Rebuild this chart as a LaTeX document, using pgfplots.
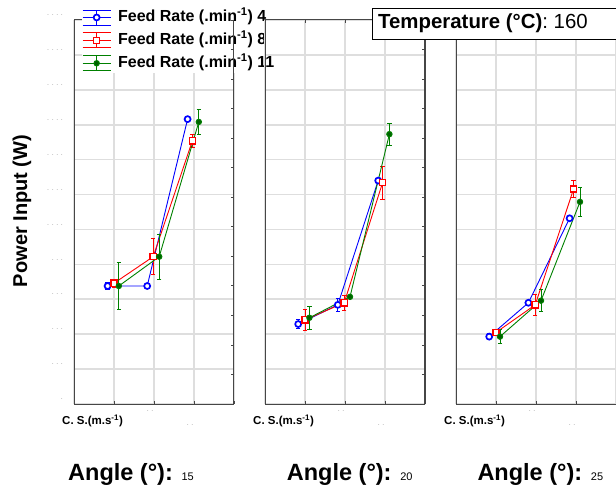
\documentclass[border=0pt]{standalone}
\usepackage{pgfplots}
\pgfplotsset{compat=1.18}
\usepackage{fontspec}
\setmainfont{Liberation Sans}
\setsansfont{Liberation Sans}

\definecolor{cblue}{RGB}{0,0,255}
\definecolor{cred}{RGB}{255,0,0}
\definecolor{cgreen}{RGB}{0,128,0}
\definecolor{gridgray}{RGB}{222,222,222}
\definecolor{axgray}{RGB}{70,70,70}
\definecolor{dotgray}{RGB}{150,150,150}

\pgfplotsset{
  panel/.style={
    width=160bp, height=384bp, scale only axis,
    xmin=0, xmax=4, ymin=0, ymax=11,
    xtick={0,...,4}, ytick={0,...,11},
    ymajorgrids=true, xmajorgrids=true,
    major grid style={gridgray, line width=1.6bp},
    axis line style={axgray, line width=1bp},
    xtick style={axgray, line width=0.8bp},
    ytick style={draw=none},
    major tick length=3bp,
    tick align=inside,
    xticklabels={}, yticklabels={},
    yticklabel pos=left,
    clip=false,
  },
  rticks/.style={
    width=160bp, height=384bp, scale only axis,
    xmin=0, xmax=4, ymin=0, ymax=13,
    axis x line=none, axis y line*=right,
    ytick={0,...,13}, yticklabels={},
    axis line style={axgray, line width=1bp},
    tick style={axgray, line width=0.8bp},
    major tick length=3bp,
    tick align=inside,
  },
  eb/.style={error bars/y dir=both, error bars/y explicit,
    error bars/error bar style={line width=0.8bp},
    error bars/error mark options={line width=0.8bp, mark size=2.2bp, rotate=90}},
  sblue/.style={cblue, line width=0.9bp, mark=*, mark size=3bp,
    mark options={fill=white, draw=cblue, line width=1.7bp}, eb},
  sred/.style={cred, line width=0.9bp, mark=square*, mark size=3.1bp,
    mark options={fill=white, draw=cred, line width=1.4bp}, eb},
  sgreen/.style={cgreen, line width=0.9bp, mark=*, mark size=2.7bp,
    mark options={fill=cgreen!75!black, draw=cgreen, line width=1bp}, eb},
  errlegend/.style={legend image code/.code={
      \draw[mark=none, line width=0.9bp] (0bp,0bp)--(28bp,0bp);
      \draw[mark=none, line width=0.9bp] (0bp,7.5bp)--(28bp,7.5bp);
      \draw[mark=none, line width=0.9bp] (0bp,-7.5bp)--(28bp,-7.5bp);
      \draw[mark=none, line width=0.9bp] (14bp,-7.5bp)--(14bp,7.5bp);
      \draw plot coordinates {(14bp,0bp)};
  }},
}

\newcommand{\legfont}{\fontsize{16bp}{19bp}\selectfont\bfseries}
\newcommand{\tdots}[1]{{\color{dotgray}\fontsize{7bp}{8bp}\selectfont #1}}

\begin{document}
\begin{tikzpicture}
\path[use as bounding box] (-74bp,-83bp) rectangle (542bp,404bp);

% ---------- Panel 1 (Angle 15) ----------
\begin{axis}[panel, at={(0bp,0bp)},
  yticklabels={{\tdots{.}},{\tdots{. . .}},{\tdots{. . .}},{\tdots{. . .}},{\tdots{. . .}},{\tdots{. . . .}},{\tdots{. . . .}},{\tdots{. . . .}},{\tdots{. . . .}},{\tdots{. . . .}},{\tdots{. . . .}},{\tdots{. . . .}}},
  yticklabel style={anchor=south east, inner sep=0pt, xshift=-11bp, yshift=4bp},
  legend style={at={(rel axis cs:0.05,1.033)}, anchor=north west,
    draw=none, fill=white, inner xsep=0bp, inner ysep=2bp, row sep=7bp,
    nodes={inner sep=0pt, text height=11.5bp, text depth=3.5bp},
    font=\legfont},
  legend cell align=left,
]
\addplot+[sblue, errlegend] coordinates {
 (0.84,3.38) +- (0,0.11)
 (1.83,3.38) +- (0,0.05)
 (2.84,8.16) +- (0,0.05)
};
\addlegendentry{\hspace{7bp}Feed Rate (.min\textsuperscript{-1}) 4\hspace{8bp}}
\addplot+[sred, errlegend] coordinates {
 (1.00,3.46) +- (0,0.12)
 (1.98,4.22) +- (0,0.52)
 (2.96,7.54) +- (0,0.19)
};
\addlegendentry{\hspace{7bp}Feed Rate (.min\textsuperscript{-1}) 8}
\addplot+[sgreen, errlegend] coordinates {
 (1.12,3.38) +- (0,0.68)
 (2.13,4.22) +- (0,0.64)
 (3.12,8.08) +- (0,0.35)
};
\addlegendentry{\hspace{7bp}Feed Rate (.min\textsuperscript{-1}) 11}
\end{axis}
\begin{axis}[rticks, at={(0bp,0bp)}]
\end{axis}

% ---------- Panel 2 (Angle 20) ----------
\begin{axis}[panel, at={(191bp,0bp)}]
\addplot+[sblue] coordinates {
 (0.83,2.29) +- (0,0.13)
 (1.82,2.84) +- (0,0.19)
 (2.83,6.40) +- (0,0.05)
};
\addplot+[sred] coordinates {
 (1.00,2.41) +- (0,0.29)
 (1.98,2.90) +- (0,0.21)
 (2.94,6.34) +- (0,0.48)
};
\addplot+[sgreen] coordinates {
 (1.11,2.47) +- (0,0.33)
 (2.125,3.07) +- (0,0.05)
 (3.11,7.73) +- (0,0.32)
};
\end{axis}
\begin{axis}[rticks, at={(191bp,0bp)}]
\end{axis}

% ---------- Panel 3 (Angle 25) ----------
\begin{axis}[panel, at={(382bp,0bp)}]
\addplot+[sblue] coordinates {
 (0.83,1.93) +- (0,0.08)
 (1.81,2.90) +- (0,0.05)
 (2.84,5.32) +- (0,0.05)
};
\addplot+[sred] coordinates {
 (1.00,2.05) +- (0,0.08)
 (1.98,2.84) +- (0,0.31)
 (2.94,6.16) +- (0,0.25)
};
\addplot+[sgreen] coordinates {
 (1.10,1.93) +- (0,0.20)
 (2.125,2.96) +- (0,0.32)
 (3.10,5.79) +- (0,0.41)
};
\end{axis}

% ---------- labels ----------
\begin{scope}[x=1bp,y=1bp]
\node[rotate=90, font=\fontsize{20bp}{24bp}\selectfont\bfseries] at (-52,193) {Power Input (W)};

\foreach \dx in {0,191,382}{
  \node[anchor=west, inner sep=0pt, font=\fontsize{11.5bp}{13bp}\selectfont\bfseries] at (\dx-12,-17) {C. S.(m.s\textsuperscript{-1})};
  \node[anchor=base, inner sep=0pt] at (\dx+76,-7) {\tdots{. .}};
  \node[anchor=base, inner sep=0pt] at (\dx+116,-21) {\tdots{. .}};
}
\node[anchor=base west, inner sep=0pt] at (-6,-76) {\fontsize{23.5bp}{28bp}\selectfont\bfseries Angle (°): \fontsize{11bp}{13bp}\selectfont\mdseries 15};
\node[anchor=base west, inner sep=0pt] at (212.7,-76) {\fontsize{23.5bp}{28bp}\selectfont\bfseries Angle (°): \fontsize{11bp}{13bp}\selectfont\mdseries 20};
\node[anchor=base west, inner sep=0pt] at (403.3,-76) {\fontsize{23.5bp}{28bp}\selectfont\bfseries Angle (°): \fontsize{11bp}{13bp}\selectfont\mdseries 25};

% ---------- temperature box ----------
\draw[black, line width=0.9bp, fill=white] (298,364.7) rectangle (560,396);
\node[anchor=west, inner sep=0pt] at (304,380.3) {\fontsize{20.4bp}{24bp}\selectfont\textbf{Temperature (°C)}: 160};
\end{scope}
\end{tikzpicture}
\end{document}
